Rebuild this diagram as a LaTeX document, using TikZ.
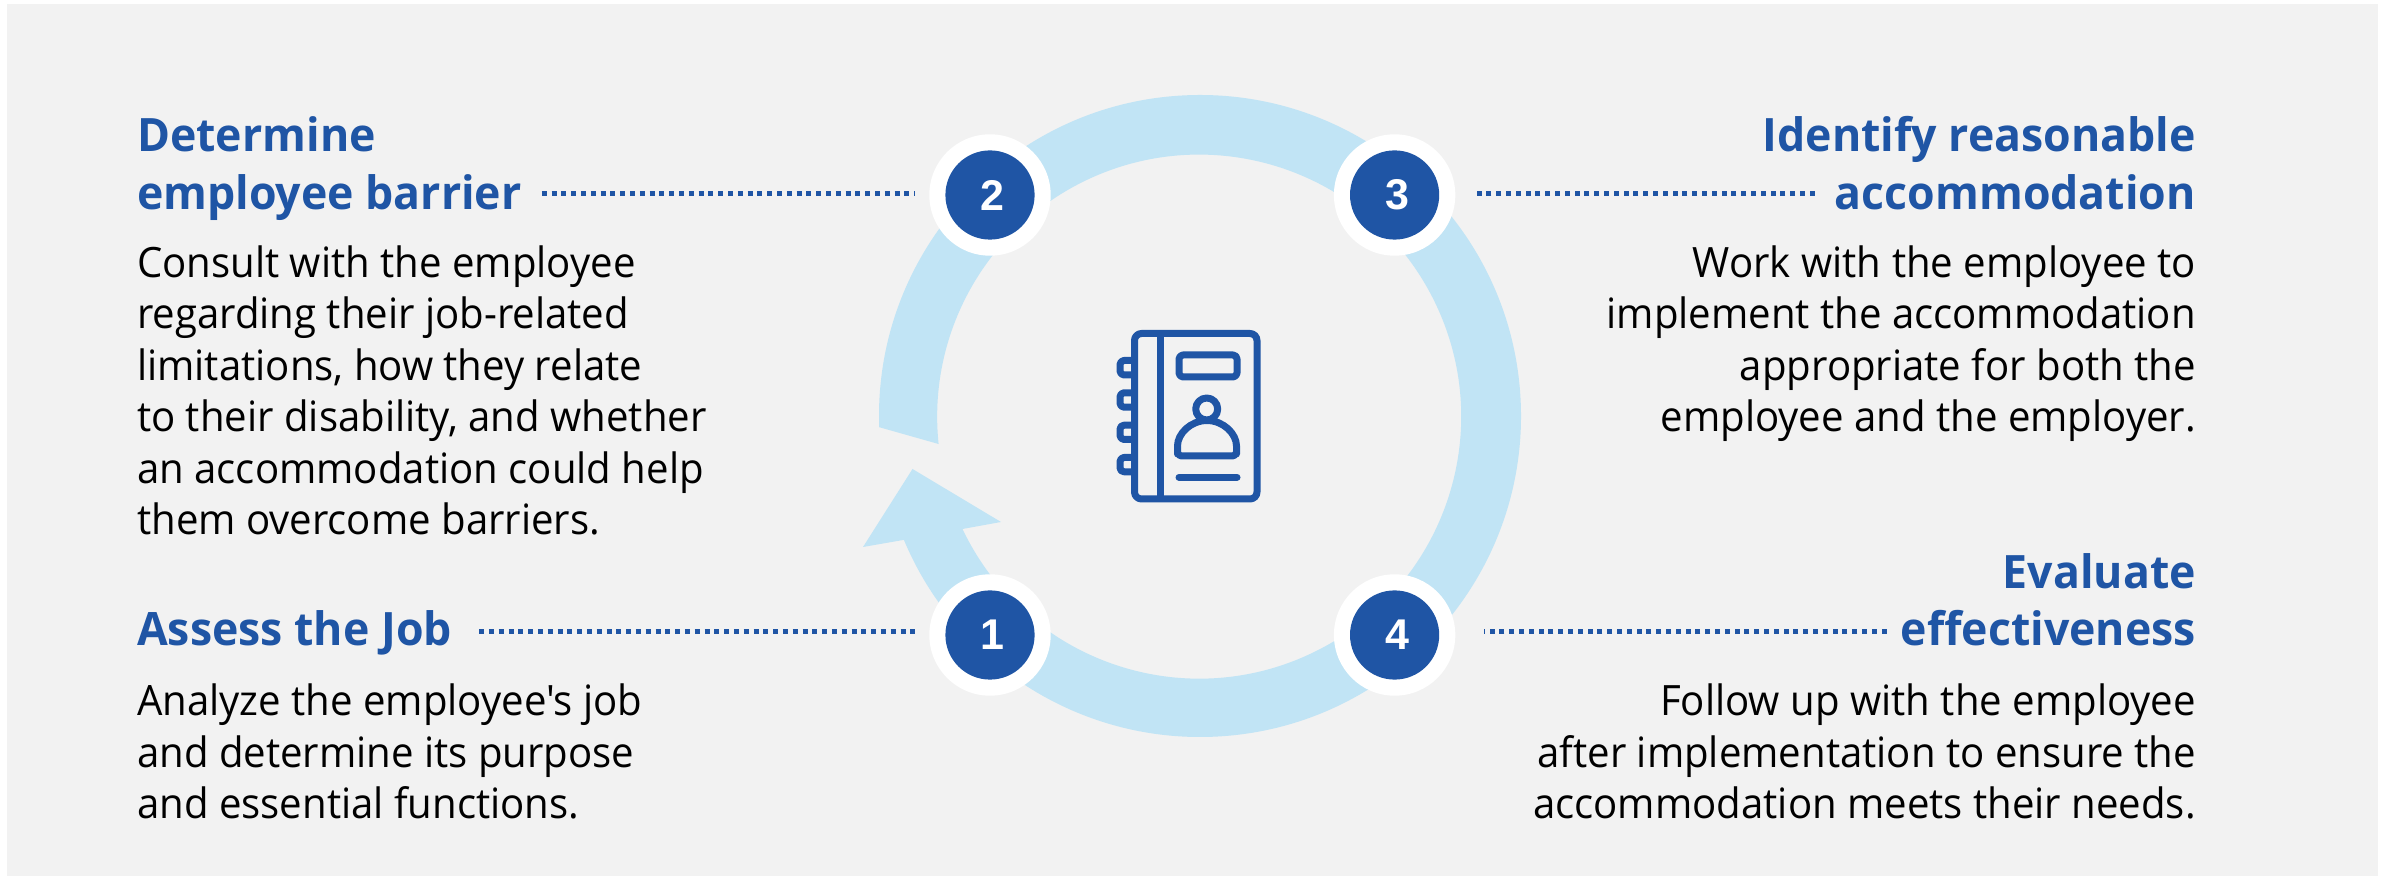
\documentclass[tikz,border=0pt]{standalone}
\usepackage{fontspec}
\usetikzlibrary{calc}
\setmainfont{Open Sans}
\newfontfamily\headfont[FakeStretch=0.97]{Open Sans}
\newfontfamily\bodyfont[FakeStretch=0.96]{Open Sans}
\newfontfamily\digitfont{Liberation Sans}[BoldFont={Liberation Sans Bold}]
\definecolor{pagebg}{HTML}{F2F2F2}
\definecolor{ringblue}{HTML}{C1E4F5}
\definecolor{deepblue}{HTML}{1F55A5}
\tikzset{
  x=1pt,y=1pt,
  headline/.style={inner sep=0pt,text=deepblue,font=\headfont\fontsize{46}{50}\selectfont\bfseries},
  bodyL/.style={inner sep=0pt,text=black,align=left,font=\bodyfont\fontsize{41.8}{51.5}\selectfont,anchor=north west},
  bodyR/.style={inner sep=0pt,text=black,align=right,font=\bodyfont\fontsize{41.8}{51.5}\selectfont,anchor=north east},
  halo/.style={circle,fill=white,minimum size=121.4pt,inner sep=0pt},
  badge/.style={circle,fill=deepblue,minimum size=89.2pt,inner sep=0pt},
  digit/.style={inner sep=0pt,text=white,font=\digitfont\fontsize{43}{43}\selectfont\bfseries},
  dotline/.style={draw=deepblue,line width=5pt,dash pattern=on 5pt off 4.8pt},
  iconline/.style={draw=deepblue,line width=7pt,line join=round}
}
\begin{document}
\begin{tikzpicture}
\useasboundingbox (0,0) rectangle (2387,878);
\fill[white] (0,0) rectangle (2387,878);
\fill[pagebg] (7,2) rectangle (2378,874);
% ring arrow
\coordinate (ctr) at (1200,462);
\fill[ringblue] ($(ctr)+(182:321)$) arc (182:-157.3:321) -- (863,331) -- (912.5,409) -- (1001,356) -- (962.5,349) arc (-154.6:186:262) -- cycle;
% badges
\foreach \nm/\px/\py/\lb in {one/990/243/1,two/990/683/2,three/1394.6/683/3,four/1394.6/243/4}{
  \node[halo] (halo\nm) at (\px,\py) {};
  \node[badge] (badge\nm) at (\px,\py) {};
  \node[digit] (digit\nm) at (\px+2.5,\py) {\lb};
}
% headings
\node[headline,anchor=base west] (h2a) at (137,726) {Determine};
\node[headline,anchor=base west] (h2b) at (137,668) {employee barrier};
\node[headline,anchor=base west] (h1) at (137,232) {Assess the Job};
\node[headline,anchor=base east] (h3a) at (2196,726) {Identify reasonable};
\node[headline,anchor=base east] (h3b) at (2196,668) {accommodation};
\node[headline,anchor=base east] (h4a) at (2196,289) {Evaluate};
\node[headline,anchor=base east] (h4b) at (2196,232) {effectiveness};
% bodies
\node[bodyL] (b2) at (137,632.5) {Consult with the employee\\regarding their job-related\\limitations, how they relate\\to their disability, and whether\\an accommodation could help\\them overcome barriers.};
\node[bodyL] (b1) at (137,194) {Analyze the employee's job\\and determine its purpose\\and essential functions.};
\node[bodyR] (b3) at (2196,632.5) {Work with the employee to\\implement the accommodation\\appropriate for both the\\employee and the employer.};
\node[bodyR] (b4) at (2196,194) {Follow up with the employee\\after implementation to ensure the\\accommodation meets their needs.};
% connectors
\draw[dotline] ([xshift=20pt]h2b.east |- 0,684) -- ([xshift=-14pt]halotwo.west |- 0,684);
\draw[dotline] ([xshift=27pt]h1.east |- 0,246) -- ([xshift=-14pt]haloone.west |- 0,246);
\draw[dotline] ([xshift=-20pt]h3b.west |- 0,684) -- ([xshift=19.5pt]halothree.east |- 0,684);
\draw[dotline] ([xshift=-14pt]h4b.west |- 0,246) -- ([xshift=28pt]halofour.east |- 0,246);
% book icon
\draw[iconline,rounded corners=7pt] (1134.5,379) rectangle (1257,544.5);
\draw[iconline] (1160.7,544.5) -- (1160.7,379);
\draw[iconline,rounded corners=4pt] (1179,501) rectangle (1237,523);
\draw[iconline] (1206.7,469) circle (11);
\draw[iconline,rounded corners=4pt] (1177.5,428) arc (180:0:29.5) -- (1236.5,422) -- (1177.5,422) -- cycle;
\draw[iconline,line cap=round] (1179,400.7) -- (1237,400.7);
\foreach \ta/\tb in {517.5/503,485.2/470.8,452.8/438.5,420.5/406.2}{
  \draw[iconline,rounded corners=4pt] (1134,\ta) -- (1120,\ta) -- (1120,\tb) -- (1134,\tb);
}
\end{tikzpicture}
\end{document}
